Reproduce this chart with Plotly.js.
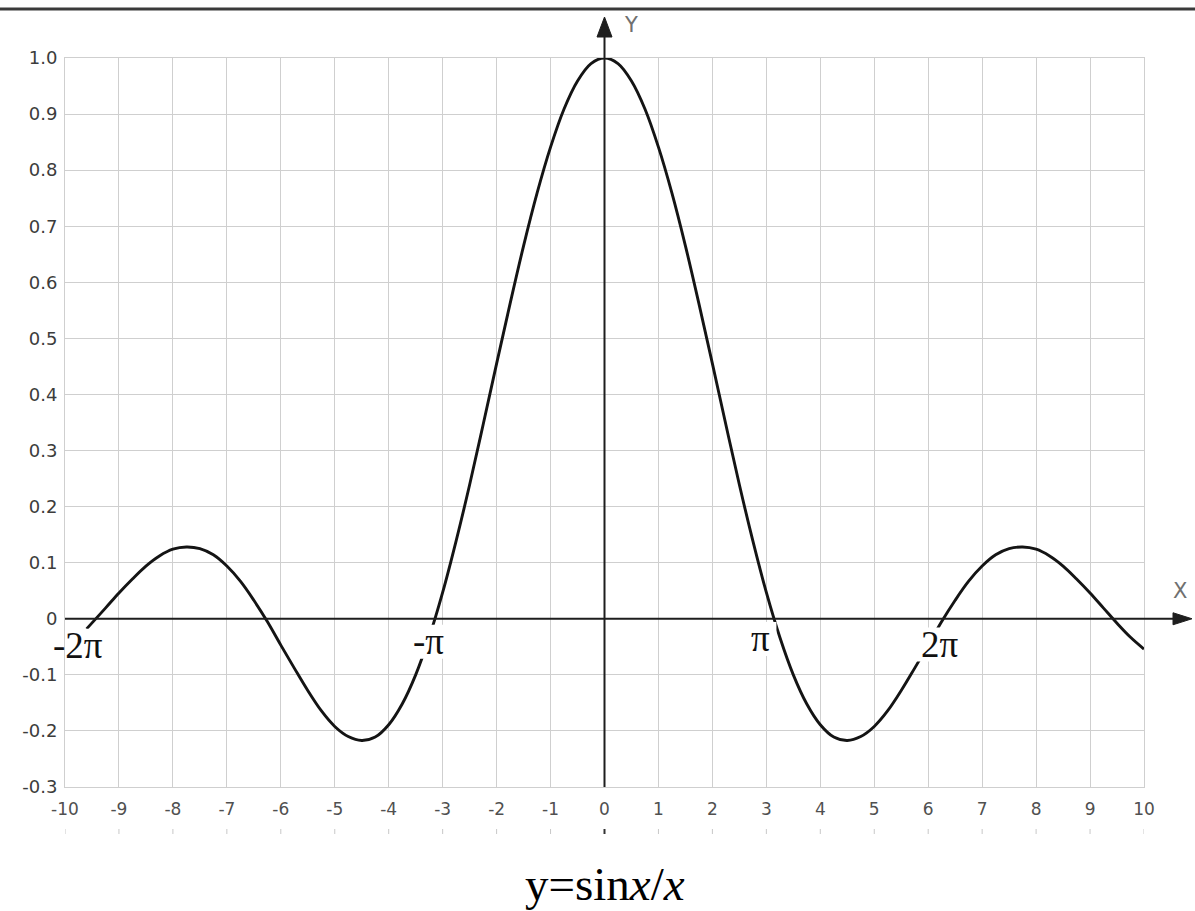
<!DOCTYPE html>
<html>
<head>
<meta charset="utf-8">
<script src="https://cdn.plot.ly/plotly-3.0.1.min.js"></script>
<style>
  html, body { margin: 0; padding: 0; background: #fff; }
  #chart { width: 1195px; height: 911px; }
</style>
</head>
<body>
<div id="chart"></div>
<script>
// Sampled points of y = sin(x)/x
const xValues = [-9.6, -9.25, -9, -8.75, -8.5, -8.25, -8, -7.75, -7.5, -7.25, -7, -6.75, -6.5, -6.25, -6, -5.75, -5.5, -5.25, -5,
  -4.75, -4.5, -4.25, -4, -3.75, -3.5, -3.25, -3, -2.75, -2.5, -2.25, -2, -1.75, -1.5, -1.25, -1, -0.75, -0.5, -0.25,
  0, 0.25, 0.5, 0.75, 1, 1.25, 1.5, 1.75, 2, 2.25, 2.5, 2.75, 3, 3.25, 3.5, 3.75, 4, 4.25, 4.5, 4.75,
  5, 5.25, 5.5, 5.75, 6, 6.25, 6.5, 6.75, 7, 7.25, 7.5, 7.75, 8, 8.25, 8.5, 8.75, 9, 9.25, 9.5, 9.75, 10];
const yValues = [-0.018, 0.019, 0.046, 0.071, 0.094, 0.112, 0.124, 0.128, 0.125, 0.114, 0.094, 0.067, 0.033, -0.005, -0.047, -0.088, -0.128, -0.164, -0.192,
  -0.210, -0.217, -0.211, -0.189, -0.152, -0.100, -0.033, 0.047, 0.139, 0.239, 0.346, 0.455, 0.562, 0.665, 0.759, 0.841, 0.909, 0.959, 0.990,
  1.000, 0.990, 0.959, 0.909, 0.841, 0.759, 0.665, 0.562, 0.455, 0.346, 0.239, 0.139, 0.047, -0.033, -0.100, -0.152, -0.189, -0.211, -0.217, -0.210,
  -0.192, -0.164, -0.128, -0.088, -0.047, -0.005, 0.033, 0.067, 0.094, 0.114, 0.125, 0.128, 0.124, 0.112, 0.094, 0.071, 0.046, 0.019, -0.008, -0.033, -0.054];

// Axis ticks
const xTickVals = [-10, -9, -8, -7, -6, -5, -4, -3, -2, -1, 0, 1, 2, 3, 4, 5, 6, 7, 8, 9, 10];
const xTickText = ['-10', '-9', '-8', '-7', '-6', '-5', '-4', '-3', '-2', '-1', '0', '1', '2', '3', '4', '5', '6', '7', '8', '9', '10'];
const yTickVals = [1.0, 0.9, 0.8, 0.7, 0.6, 0.5, 0.4, 0.3, 0.2, 0.1, 0, -0.1, -0.2, -0.3];
const yTickText = ['1.0', '0.9', '0.8', '0.7', '0.6', '0.5', '0.4', '0.3', '0.2', '0.1', '0', '-0.1', '-0.2', '-0.3'];

// Multiples of pi marked along the x axis
const piLabels = ['-2π', '-π', 'π', '2π'];
const piLabelX = [-9.75, -3.26, 2.89, 6.21];
const piLabelY = [-0.048, -0.041, -0.036, -0.046];

// Page geometry (pixels)
const W = 1195, H = 911;
const M = { l: 65, r: 51, t: 58, b: 124 };
const plotW = W - M.l - M.r, plotH = H - M.t - M.b;
const px2paperX = p => (p - M.l) / plotW;
const px2paperY = p => (H - M.b - p) / plotH;
const xUnitPx = plotW / 20;
const yUnitPx = plotH / 1.3;

const axisColor = '#1e1e1e';
const gridColor = '#cfcfcf';

const shapes = [];

// White patches behind the pi labels (they interrupt curve and grid, not the axis)
piLabels.forEach((t, i) => {
  const halfW = 8 + 8 * t.length;
  shapes.push({ type: 'rect', layer: 'above',
    xref: 'x', xsizemode: 'pixel', xanchor: piLabelX[i], x0: -halfW, x1: halfW,
    yref: 'y', ysizemode: 'pixel', yanchor: piLabelY[i], y0: -17, y1: 17,
    fillcolor: '#ffffff', line: { width: 0 } });
});

// Rule across the top of the page
shapes.push({ type: 'line', xref: 'paper', yref: 'paper',
  x0: px2paperX(0), x1: px2paperX(W), y0: px2paperY(9), y1: px2paperY(9),
  line: { color: '#3a3a3a', width: 3 } });

// X axis with arrow
shapes.push({ type: 'line', xref: 'paper', yref: 'y',
  x0: 0, x1: px2paperX(1176), y0: 0, y1: 0,
  line: { color: axisColor, width: 2 } });
{
  const tip = px2paperX(1192), back = px2paperX(1173), hh = 6 / yUnitPx;
  shapes.push({ type: 'path', xref: 'paper', yref: 'y',
    path: `M ${back},${hh} L ${tip},0 L ${back},${-hh} Z`,
    fillcolor: axisColor, line: { color: axisColor, width: 1 } });
}

// Y axis with arrow
shapes.push({ type: 'line', xref: 'x', yref: 'paper',
  x0: 0, x1: 0, y0: 0, y1: px2paperY(34),
  line: { color: axisColor, width: 2 } });
{
  const tip = px2paperY(17), back = px2paperY(37), hw = 7.5 / xUnitPx;
  shapes.push({ type: 'path', xref: 'x', yref: 'paper',
    path: `M ${-hw},${back} L 0,${tip} L ${hw},${back} Z`,
    fillcolor: axisColor, line: { color: axisColor, width: 1 } });
}

// Small marks under the x tick labels
xTickVals.forEach(v => {
  shapes.push({ type: 'line', xref: 'x', yref: 'paper',
    x0: v, x1: v, y0: px2paperY(829), y1: px2paperY(834),
    line: { color: v === 0 ? '#333' : '#c8c8c8', width: v === 0 ? 2 : 1 } });
});

const annotations = [];
piLabels.forEach((t, i) => {
  annotations.push({ text: t, x: piLabelX[i], y: piLabelY[i], xref: 'x', yref: 'y',
    showarrow: false, xanchor: 'center', yanchor: 'middle',
    font: { family: 'Liberation Serif, Times New Roman, serif', size: 37, color: '#111' } });
});
annotations.push({ text: 'X', x: px2paperX(1180), y: 0.05, xref: 'paper', yref: 'y',
  showarrow: false, xanchor: 'center', yanchor: 'middle',
  font: { family: 'DejaVu Sans, sans-serif', size: 21, color: '#707070' } });
annotations.push({ text: 'Y', x: px2paperX(631), y: px2paperY(25), xref: 'paper', yref: 'paper',
  showarrow: false, xanchor: 'center', yanchor: 'middle',
  font: { family: 'DejaVu Sans, sans-serif', size: 21, color: '#707070' } });
annotations.push({ text: 'y=sin<i>x</i>/<i>x</i>', x: 0.5, y: px2paperY(884), xref: 'paper', yref: 'paper',
  showarrow: false, xanchor: 'center', yanchor: 'middle',
  font: { family: 'Liberation Serif, Times New Roman, serif', size: 47, color: '#000' } });

const trace = {
  type: 'scatter', mode: 'lines', x: xValues, y: yValues,
  line: { color: '#141414', width: 2.9, shape: 'spline', smoothing: 1 },
  hoverinfo: 'skip', cliponaxis: false
};

const layout = {
  width: W, height: H,
  margin: M,
  paper_bgcolor: '#ffffff', plot_bgcolor: '#ffffff',
  showlegend: false,
  xaxis: {
    range: [-10, 10], tickvals: xTickVals, ticktext: xTickText,
    showgrid: true, gridcolor: gridColor, gridwidth: 1,
    zeroline: false, showline: true, linecolor: gridColor, linewidth: 1, mirror: true,
    ticks: '', ticklabelstandoff: 7,
    tickfont: { family: 'DejaVu Sans, sans-serif', size: 17, color: '#505050' },
    fixedrange: true
  },
  yaxis: {
    range: [-0.3, 1.0], tickvals: yTickVals, ticktext: yTickText,
    showgrid: true, gridcolor: gridColor, gridwidth: 1,
    zeroline: false, showline: true, linecolor: gridColor, linewidth: 1, mirror: true,
    ticks: '', ticklabelstandoff: 3,
    tickfont: { family: 'DejaVu Sans, sans-serif', size: 18, color: '#3c3c3c' },
    fixedrange: true
  },
  shapes: shapes,
  annotations: annotations
};

Plotly.newPlot('chart', [trace], layout, { displayModeBar: false, staticPlot: true });
</script>
</body>
</html>
